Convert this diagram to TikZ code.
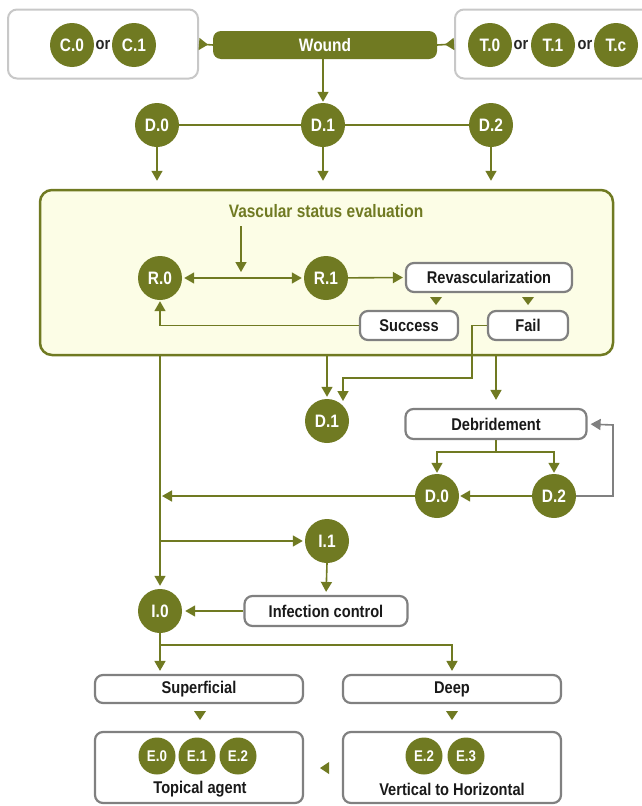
\documentclass[tikz,border=0pt]{standalone}
\usepackage{fontspec}
\newfontfamily\cf{Liberation Sans}[FakeStretch=0.86]
\usetikzlibrary{arrows.meta}
\definecolor{olive}{HTML}{707A22}
\definecolor{paleyel}{HTML}{FCFDE6}
\definecolor{lgray}{HTML}{C8C8C8}
\definecolor{dgray}{HTML}{808080}
\begin{document}
\begin{tikzpicture}[x=1pt,y=-1pt,
  dot/.style={circle,fill=olive,minimum size=44pt,inner sep=0pt,text=white,font=\cf\bfseries\fontsize{18}{18}\selectfont},
  edot/.style={circle,fill=olive,minimum size=37pt,inner sep=0pt,text=white,font=\cf\bfseries\fontsize{15.5}{15.5}\selectfont},
  gbox/.style={draw=dgray,line width=2.2pt,rounded corners=8pt,fill=white,inner sep=0pt,minimum height=29pt,font=\cf\bfseries\fontsize{17}{17}\selectfont,text=black!90},
  tbox/.style={draw=lgray,line width=2pt,rounded corners=9pt,fill=white,inner sep=0pt},
  ortext/.style={font=\cf\bfseries\fontsize{17}{17}\selectfont,text=black!85},
  tip/.style={-{Triangle[width=11pt,length=10pt]}},
  arr/.style={draw=olive,line width=1.6pt,tip},
  garr/.style={draw=dgray,line width=1.6pt,tip},
  ln/.style={draw=olive,line width=1.6pt},
  rtip/.style={draw=olive,line width=1.6pt,{Triangle[width=12pt,length=9pt,reversed]}-}]
\useasboundingbox (0,0) rectangle (641,806);

% top boxes
\node[tbox,minimum width=190pt,minimum height=69pt] (cbox) at (103,44) {};
\node[tbox,minimum width=200pt,minimum height=69pt] (tboxr) at (555,44) {};
\node[dot] (c0) at (72,45) {C.0};
\node[ortext] (or1) at (103,45) {or};
\node[dot] (c1) at (134,45) {C.1};
\node[dot] (t0) at (490,45) {T.0};
\node[ortext] (or2) at (521,45) {or};
\node[dot] (t1) at (553,45) {T.1};
\node[ortext] (or3) at (585,45) {or};
\node[dot] (tc) at (616,45) {T.c};

\node[fill=olive,rounded corners=8pt,minimum width=224pt,minimum height=28pt,inner sep=0pt,text=white,font=\cf\bfseries\fontsize{18}{18}\selectfont] (wound) at (325,45) {Wound};
\draw[rtip] (cbox.east) -- (wound.west);
\draw[rtip] (tboxr.west) -- (wound.east);

% D row
\node[dot] (d0) at (157,125) {D.0};
\node[dot] (d1) at (323,125) {D.1};
\node[dot] (d2) at (491,125) {D.2};
\draw[arr,shorten >=1pt] (wound.south -| d1) -- (d1.north);
\draw[ln] (d0) -- (d1) -- (d2);

% vascular box
\node[draw=olive,line width=2.5pt,fill=paleyel,rounded corners=12pt,minimum width=573pt,minimum height=165pt,inner sep=0pt] (vbox) at (326.5,272.5) {};
\draw[arr,shorten >=8pt] (d0.south) -- (d0 |- vbox.north);
\draw[arr,shorten >=8pt] (d1.south) -- (d1 |- vbox.north);
\draw[arr,shorten >=8pt] (d2.south) -- (d2 |- vbox.north);

\node[text=olive,font=\cf\bfseries\fontsize{18}{18}\selectfont] (vse) at (326,211) {Vascular status evaluation};
\node[dot] (r0) at (160,278) {R.0};
\node[dot] (r1) at (326,278) {R.1};
\coordinate (vsa) at (241,226);
\coordinate (vsb) at (241,272);
\draw[arr] (vsa) -- (vsb);
\draw[arr,{Triangle[width=11pt,length=10pt]}-{Triangle[width=11pt,length=10pt]},shorten >=2pt,shorten <=2pt] (r0) -- (r1);
\node[gbox,minimum width=166pt] (rev) at (489,277.5) {Revascularization};
\draw[arr,shorten >=2pt] (r1) -- (rev.west);
\fill[olive] (430,297) -- (442,297) -- (436,305) -- cycle;
\fill[olive] (522,297) -- (534,297) -- (528,305) -- cycle;
\node[gbox,minimum width=98pt] (succ) at (409,325.5) {Success};
\node[gbox,minimum width=80pt] (fail) at (528,325.5) {Fail};
\draw[arr,shorten >=1pt] (succ.west) -| (r0.south);

% below vascular box
\node[dot] (dd1) at (327,421) {D.1};
\coordinate (f1) at (472,378);
\coordinate (f2) at (343,401);
\draw[arr] (fail.west) -| (f1) -| (f2);
\draw[arr,shorten >=2pt] (vbox.south -| dd1) -- (dd1.north);
\node[gbox,minimum width=181pt,minimum height=30pt] (debr) at (496,424) {Debridement};
\draw[arr,shorten >=8pt] (vbox.south -| debr) -- (debr.north);
\node[dot] (dd0) at (437,496) {D.0};
\node[dot] (dd2) at (554,496) {D.2};
\coordinate (dj) at (496,452);
\draw[ln] (debr.south) -- (dj);
\draw[arr,shorten >=1pt] (dj) -| (dd0.north);
\draw[arr,shorten >=1pt] (dj) -| (dd2.north);
\draw[arr,shorten >=1pt] (dd2) -- (dd0);
\coordinate (gr) at (613,425);
\draw[garr,shorten >=3pt] (dd2.east) -| (gr) -- (debr.east);
\coordinate (vl) at (162,496);
\draw[arr] (dd0.west) -- (vl);

% infection
\node[dot] (i0) at (160,611) {I.0};
\node[dot] (i1) at (327,541) {I.1};
\draw[arr,shorten >=3pt] (vbox.south -| i0) -- (i0.north);
\draw[arr,shorten >=2pt] (i0 |- i1) -- (i1.west);
\node[gbox,minimum width=163pt,minimum height=30pt] (infc) at (326,611) {Infection control};
\draw[arr,shorten >=3pt] (i1.south) -- (infc.north);
\draw[arr,shorten >=3pt] (infc.west) -- (i0.east);

% depth
\node[gbox,minimum width=208pt,minimum height=28pt] (sup) at (199,689) {Superficial};
\node[gbox,minimum width=218pt,minimum height=28pt] (deep) at (452,689) {Deep};
\coordinate (ij) at (160,645);
\draw[arr,shorten >=3pt] (i0.south) -- (i0 |- sup.north);
\draw[arr,shorten >=3pt] (ij) -| (deep.north);
\fill[olive] (194,711) -- (206,711) -- (200,720) -- cycle;
\fill[olive] (446,711) -- (458,711) -- (452,720) -- cycle;

\node[gbox,minimum width=208pt,minimum height=71pt] (topb) at (199,767.5) {};
\node[gbox,minimum width=218pt,minimum height=71pt] (vertb) at (452,767.5) {};
\fill[olive] (320,768) -- (329,762) -- (329,774) -- cycle;
\node[edot] (e0) at (157,756) {E.0};
\node[edot] (e1) at (197,756) {E.1};
\node[edot] (e2) at (238,756) {E.2};
\node[edot] (e2b) at (424,756) {E.2};
\node[edot] (e3) at (466,756) {E.3};
\node[font=\cf\bfseries\fontsize{17}{17}\selectfont,text=black!90] (topl) at (200,789) {Topical agent};
\node[font=\cf\bfseries\fontsize{17}{17}\selectfont,text=black!90] (vertl) at (452,789) {Vertical to Horizontal};
\end{tikzpicture}
\end{document}
